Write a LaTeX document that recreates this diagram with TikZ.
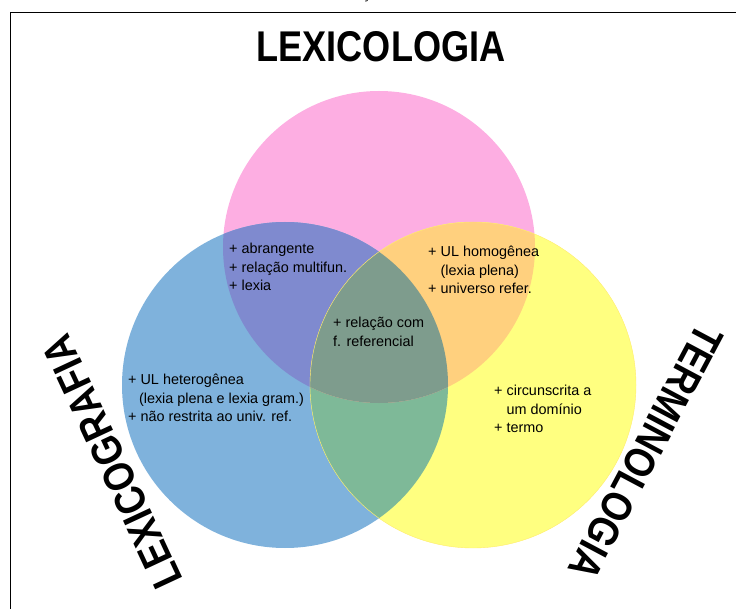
\documentclass[tikz,border=0pt]{standalone}
\usepackage{fontspec}
\setmainfont{Liberation Sans}
\newfontfamily\headfont{Liberation Sans}[FakeStretch=0.84]
\usetikzlibrary{positioning}

\definecolor{lexpink}{RGB}{253,174,226}
\definecolor{grafblue}{RGB}{127,178,220}
\definecolor{termyellow}{RGB}{255,255,128}
\definecolor{pinkblue}{RGB}{127,138,207}
\definecolor{pinkyellow}{RGB}{255,208,126}
\definecolor{blueyellow}{RGB}{126,185,152}
\definecolor{allthree}{RGB}{126,156,141}

\tikzset{
  area/.style={font=\fontsize{14.4}{18.5}\selectfont, align=left, anchor=west, inner sep=0pt},
  heading/.style={font=\headfont\bfseries\fontsize{43}{43}\selectfont, inner sep=0pt},
}

\begin{document}
\begin{tikzpicture}[x=1pt, y=-1pt]
  \useasboundingbox (0,0) rectangle (736,609);

  % frame and cut-off text above it
  \draw[line width=1.3pt] (10.5,609) -- (10.5,12.5) -- (736,12.5);
  \node[font=\fontsize{16}{16}\selectfont, anchor=base, inner sep=0pt] (cut) at (366,-1) {ç};

  % circle centres
  \coordinate (lexc)  at (379,247);
  \coordinate (grafc) at (285,385);
  \coordinate (termc) at (473,385);

  % single circles
  \fill[lexpink]    (lexc)  circle[radius=156pt];
  \fill[grafblue]   (grafc) circle[radius=163pt];
  \fill[termyellow] (termc) circle[radius=163pt];

  % overlaps
  \begin{scope}
    \clip (grafc) circle[radius=163pt];
    \fill[blueyellow] (termc) circle[radius=163pt];
  \end{scope}
  \begin{scope}
    \clip (lexc) circle[radius=156pt];
    \fill[pinkblue]   (grafc) circle[radius=163pt];
    \fill[pinkyellow] (termc) circle[radius=163pt];
    \clip (grafc) circle[radius=163pt];
    \fill[allthree]   (termc) circle[radius=163pt];
  \end{scope}
  \draw[termyellow!85!orange, line width=0.4pt] (termc) circle[radius=163pt];

  % headings
  \node[heading] (lexicologia)  at (381,47)  {LEXICOLOGIA};
  \node[heading, rotate=115]  (lexicografia) at (112,462) {LEXICOGRAFIA};
  \node[heading, rotate=-118] (terminologia) at (646,452) {TERMINOLOGIA};

  % texts
  \node[area] (lexgraf)  at (229,267) {+ abrangente\\+ relação multifun.\\+ lexia};
  \node[area] (lexterm)  at (428,270) {+ UL homogênea\\\hphantom{+ }(lexia plena)\\+ universo refer.};
  \node[area] (common)   at (333,332) {+ relação com\\f. referencial};
  \node[area] (grafonly) at (128,398) {+ UL heterogênea\\\hphantom{+}\,(lexia plena e lexia gram.)\\+ não restrita ao univ. ref.};
  \node[area] (termonly) at (494,409) {+ circunscrita a\\\hphantom{+ }um domínio\\+ termo};
\end{tikzpicture}
\end{document}
